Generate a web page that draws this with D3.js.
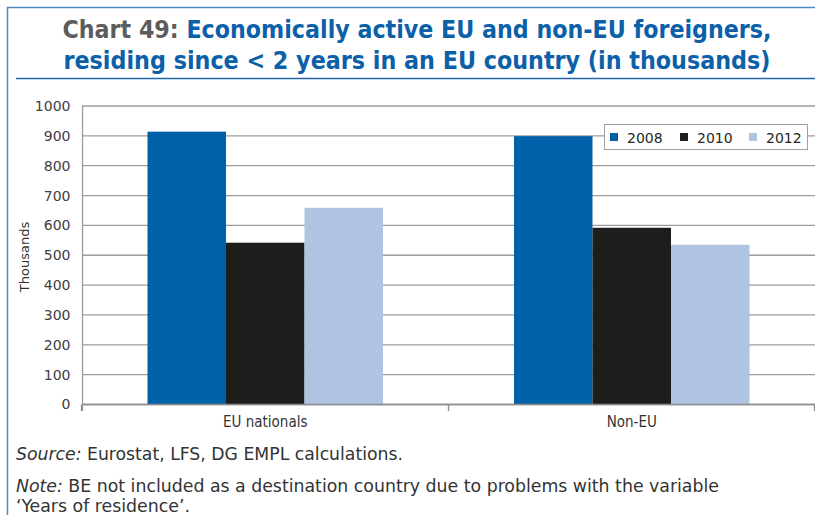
<!DOCTYPE html>
<html><head><meta charset="utf-8">
<script src="https://cdn.jsdelivr.net/npm/d3@7"></script>
<style>body{margin:0;background:#fff;} svg{display:block}</style>
</head><body><svg id="c" width="815" height="515"></svg>
<script>
const categories = ["EU nationals", "Non-EU"];
const years = ["2008", "2010", "2012"];
const values2008 = [914, 899];
const values2010 = [542, 592];
const values2012 = [659, 535];
const yTicks = [0, 100, 200, 300, 400, 500, 600, 700, 800, 900, 1000];
const colors = ["#0060a8", "#1d1d1b", "#aec4e2"];

const series = [values2008, values2010, values2012];
const rows = categories.map((c, i) => ({cat: c, vals: years.map((y, j) => ({year: y, v: series[j][i]}))}));

const svg = d3.select("#c");
const condensed = "'Liberation Sans Narrow','DejaVu Sans Condensed','DejaVu Sans',sans-serif";

// frame
svg.append("line").attr("x1", 7).attr("x2", 815).attr("y1", 7.5).attr("y2", 7.5).attr("stroke", "#5088c4").attr("stroke-width", 1.5);
svg.append("line").attr("x1", 7.5).attr("x2", 7.5).attr("y1", 7).attr("y2", 515).attr("stroke", "#5088c4").attr("stroke-width", 1.5);
svg.append("line").attr("x1", 16).attr("x2", 815).attr("y1", 78.5).attr("y2", 78.5).attr("stroke", "#1f65ab").attr("stroke-width", 1.5);

// title
const t1 = svg.append("text").attr("x", 417).attr("y", 38).attr("text-anchor", "middle")
  .style("font-family", condensed).style("font-stretch", "condensed").style("font-size", "25px").style("font-weight", "bold")
  .attr("textLength", 709).attr("lengthAdjust", "spacingAndGlyphs");
t1.append("tspan").attr("fill", "#5c5c5c").text("Chart 49: ");
t1.append("tspan").attr("fill", "#0b60a8").text("Economically active EU and non-EU foreigners,");
svg.append("text").attr("x", 417).attr("y", 69).attr("text-anchor", "middle")
  .style("font-family", condensed).style("font-stretch", "condensed").style("font-size", "25px").style("font-weight", "bold")
  .attr("fill", "#0b60a8").attr("textLength", 707).attr("lengthAdjust", "spacingAndGlyphs")
  .text("residing since < 2 years in an EU country (in thousands)");

// scales
const x0 = d3.scaleBand().domain(categories).range([82, 815]).padding(0);
const x1 = d3.scaleBand().domain(years).range([65.5, x0.bandwidth() - 65.5]).padding(0);
const y = d3.scaleLinear().domain([0, 1000]).range([404.5, 106]);

// gridlines
svg.append("g").selectAll("line").data(yTicks).join("line")
  .attr("x1", 82).attr("x2", 815)
  .attr("y1", d => y(d)).attr("y2", d => y(d))
  .attr("stroke", "#9c9c9c").attr("stroke-width", 1.3);

// y axis
const yAxis = svg.append("g").attr("transform", "translate(82.5,0)")
  .call(d3.axisLeft(y).tickValues(yTicks).tickSize(0).tickPadding(12).tickFormat(d3.format("d")));
yAxis.select(".domain").attr("stroke", "#9c9c9c").attr("stroke-width", 1.3).attr("d", `M0,${y(1000)}V411`);
yAxis.selectAll("text").style("font-family", "'DejaVu Sans',sans-serif").style("font-size", "14px").attr("fill", "#404040");

// bars
const g = svg.append("g").selectAll("g").data(rows).join("g")
  .attr("transform", d => `translate(${x0(d.cat)},0)`);
g.selectAll("rect").data(d => d.vals).join("rect")
  .attr("x", d => x1(d.year)).attr("width", x1.bandwidth())
  .attr("y", d => y(d.v)).attr("height", d => y(0) - y(d.v))
  .attr("fill", (d, i) => colors[i]);

// x axis
svg.append("line").attr("x1", 82).attr("x2", 815).attr("y1", y(0)).attr("y2", y(0)).attr("stroke", "#8c8c8c").attr("stroke-width", 1.5);
const xTickPos = [x0.range()[0], ...categories.map(c => x0(c) + x0.bandwidth())];
svg.append("g").selectAll("line").data(xTickPos).join("line")
  .attr("x1", d => Math.round(d) - 0.5).attr("x2", d => Math.round(d) - 0.5)
  .attr("y1", y(0)).attr("y2", 411).attr("stroke", "#8c8c8c").attr("stroke-width", 1.3);
svg.append("g").selectAll("text").data(categories).join("text")
  .attr("x", d => x0(d) + x0.bandwidth() / 2).attr("y", 427).attr("text-anchor", "middle")
  .style("font-family", condensed).style("font-stretch", "condensed").style("font-size", "15px")
  .attr("fill", "#333").text(d => d);

// y title
svg.append("text").attr("transform", "translate(29,257) rotate(-90)").attr("text-anchor", "middle")
  .style("font-family", "'DejaVu Sans',sans-serif").style("font-size", "13px").attr("fill", "#333").text("Thousands");

// legend
const lg = svg.append("g");
lg.append("rect").attr("x", 604.5).attr("y", 124.5).attr("width", 203).attr("height", 25)
  .attr("fill", "#fff").attr("stroke", "#a0a0a0");
const lx = [610, 680, 749];
years.forEach((yr, i) => {
  lg.append("rect").attr("x", lx[i]).attr("y", 133).attr("width", 8).attr("height", 8).attr("fill", colors[i]);
  lg.append("text").attr("x", lx[i] + 17).attr("y", 142.5)
    .style("font-family", "'DejaVu Sans',sans-serif").style("font-size", "14px").attr("fill", "#262626").text(yr);
});

// footer
const fs = "18px";
const f1 = svg.append("text").attr("x", 16).attr("y", 460).style("font-family", condensed)
  .style("font-stretch", "condensed").style("font-size", fs).attr("fill", "#333")
  .attr("textLength", 387).attr("lengthAdjust", "spacingAndGlyphs");
f1.append("tspan").style("font-style", "italic").text("Source:");
f1.append("tspan").text(" Eurostat, LFS, DG EMPL calculations.");
const f2 = svg.append("text").attr("x", 16).attr("y", 492).style("font-family", condensed)
  .style("font-stretch", "condensed").style("font-size", fs).attr("fill", "#333")
  .attr("textLength", 703).attr("lengthAdjust", "spacingAndGlyphs");
f2.append("tspan").style("font-style", "italic").text("Note:");
f2.append("tspan").text(" BE not included as a destination country due to problems with the variable");
svg.append("text").attr("x", 16).attr("y", 512).style("font-family", condensed)
  .style("font-stretch", "condensed").style("font-size", fs).attr("fill", "#333")
  .attr("textLength", 174).attr("lengthAdjust", "spacingAndGlyphs")
  .text("\u2018Years of residence\u2019.");
</script></body></html>
